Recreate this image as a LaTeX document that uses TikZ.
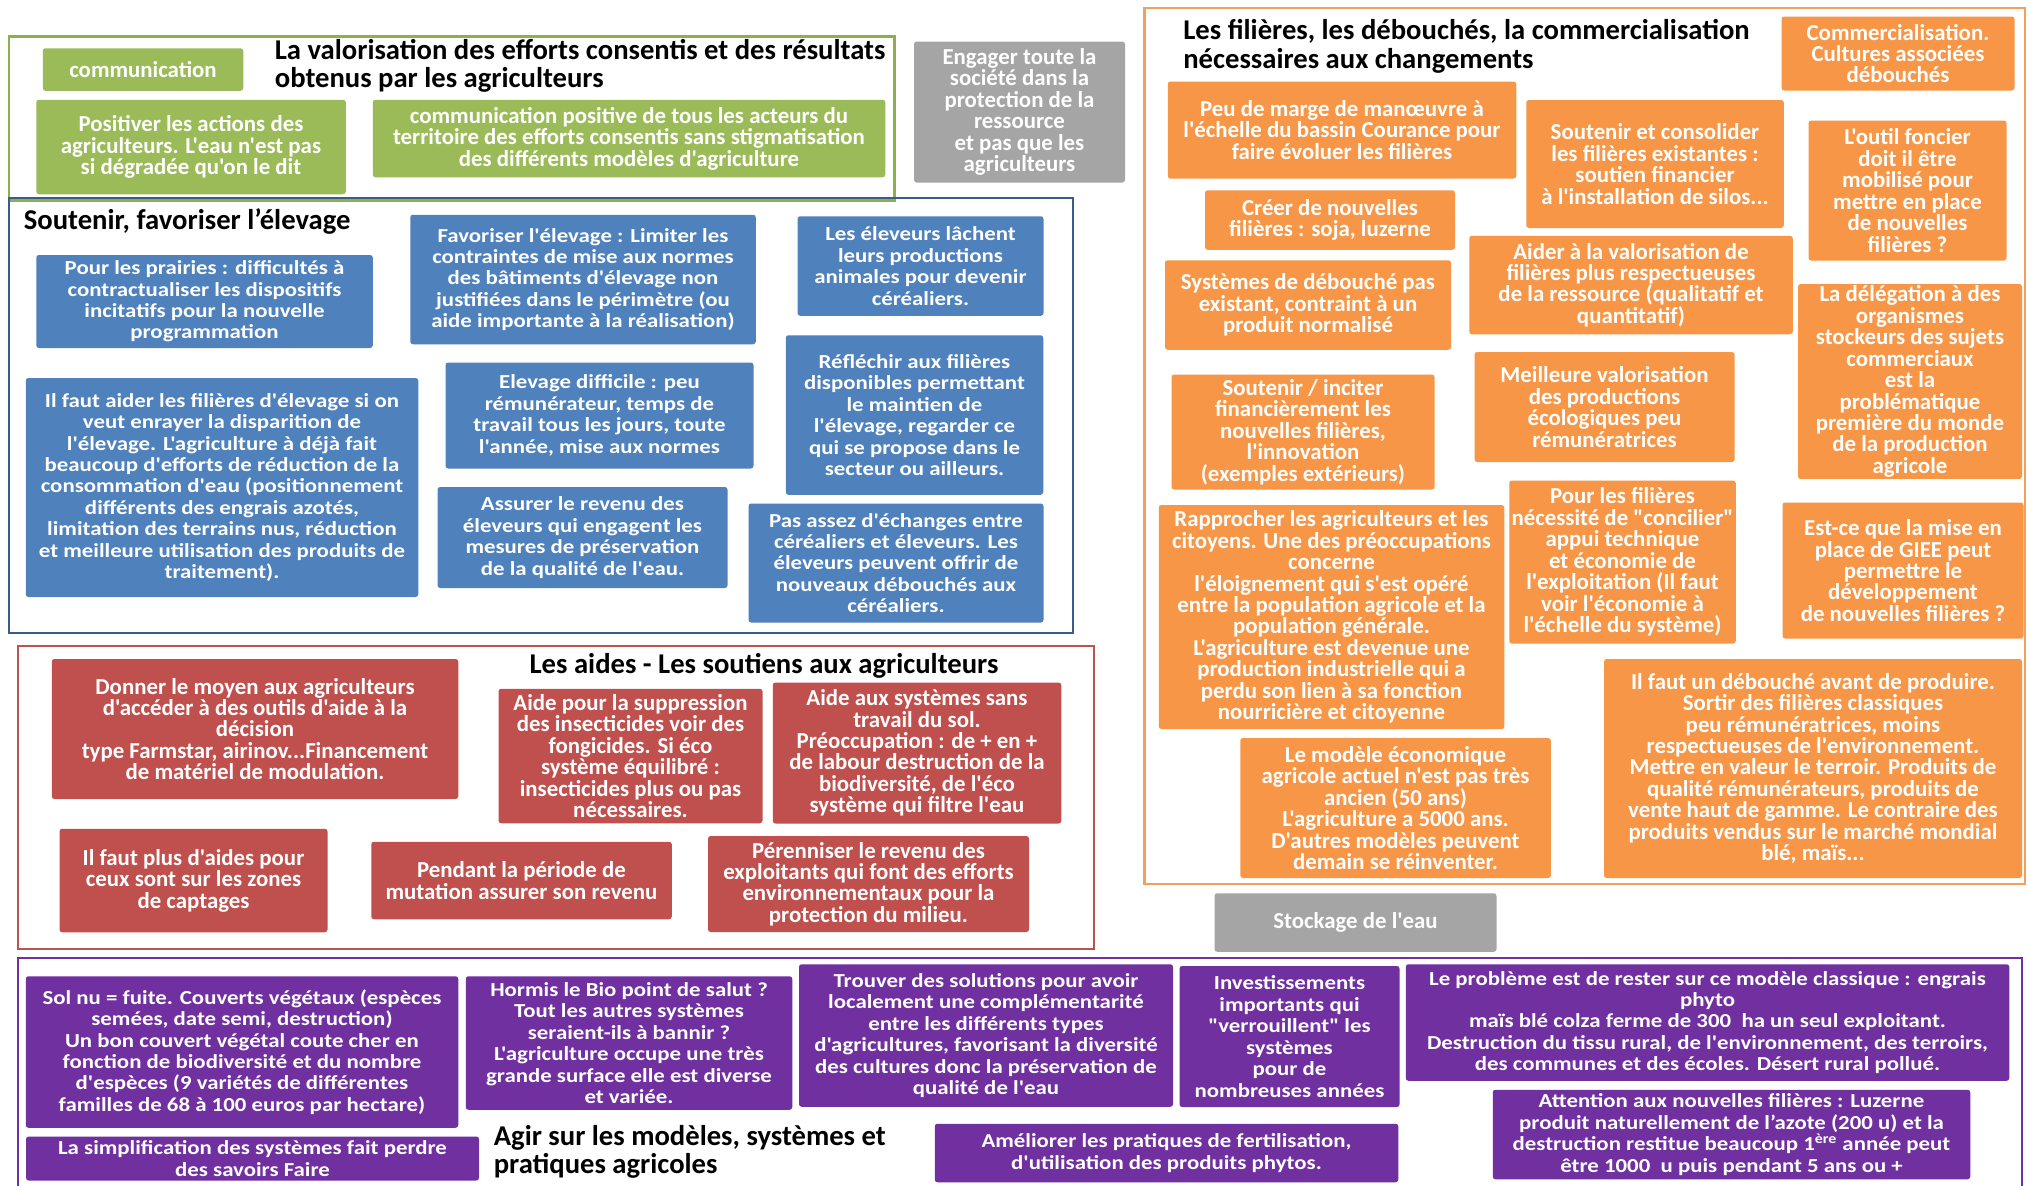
\documentclass[tikz,border=0pt]{standalone}
\usepackage{fontspec}
\setmainfont{Carlito}[Ligatures=TeXOff]
\newfontfamily\widefont[FakeStretch=1.15]{Carlito}
\usetikzlibrary{positioning}
\definecolor{valgreen}{RGB}{155, 187, 89}
\definecolor{valgreenline}{RGB}{140, 176, 74}
\definecolor{elevblue}{RGB}{79, 129, 189}
\definecolor{elevblueline}{RGB}{56, 93, 138}
\definecolor{aidred}{RGB}{192, 80, 77}
\definecolor{aidredline}{RGB}{185, 84, 80}
\definecolor{filorange}{RGB}{247, 150, 70}
\definecolor{filorangeline}{RGB}{245, 160, 90}
\definecolor{modpurple}{RGB}{112, 48, 160}
\definecolor{societygray}{RGB}{165, 165, 165}
\newcommand{\cardfont}{\fontsize{13}{12.2}\selectfont\bfseries\lineskiplimit=-20pt}
\newcommand{\widecardfont}{\widefont\fontsize{11.3}{12.2}\selectfont\bfseries\lineskiplimit=-20pt}
\newcommand{\headfont}{\fontsize{16.3}{16.2}\selectfont\bfseries\lineskiplimit=-20pt}

\begin{document}
\begin{tikzpicture}[
  card/.style={rounded corners=1.5pt, align=center, text=white, font=\cardfont, inner sep=1pt},
  greencard/.style={card, fill=valgreen},
  bluecard/.style={card, fill=elevblue, font=\widecardfont},
  redcard/.style={card, fill=aidred},
  orangecard/.style={card, fill=filorange},
  purplecard/.style={card, fill=modpurple, font=\widecardfont},
  graycard/.style={card, fill=societygray},
  heading/.style={align=left, anchor=west, font=\headfont, inner sep=0pt},
  frame/.style={line width=1.6pt}
]
  \useasboundingbox (0,0) rectangle (40.6,-23.72);
  \fill[white] (0,0) rectangle (40.6,-23.72);

  % Section frames
  \draw[frame, valgreenline] (0.18,-0.73) rectangle (17.89,-4.01);
  \draw[frame, elevblueline] (0.18,-3.96) rectangle (21.46,-12.66);
  \draw[frame, aidredline] (0.36,-12.92) rectangle (21.88,-18.98);
  \draw[frame, filorangeline] (22.89,-0.16) rectangle (40.5,-17.68);
  \draw[frame, modpurple] (0.36,-19.16) rectangle (40.44,-24.2);

  % Valorisation (green)
  \node[heading] (valtitle) at (5.49,-1.32) {La valorisation des efforts consentis et des résultats\\obtenus par les agriculteurs};
  \node[greencard, minimum width=4.01cm, minimum height=0.85cm] (comm) at (2.86,-1.39) {communication};
  \node[greencard, minimum width=6.19cm, minimum height=1.89cm] (positiver) at (3.82,-2.94) {Positiver les actions des\\agriculteurs. L'eau n'est pas\\si dégradée qu'on le dit};
  \node[greencard, minimum width=10.25cm, minimum height=1.55cm] (commpos) at (12.58,-2.77) {communication positive de tous les acteurs du\\territoire des efforts consentis sans stigmatisation\\des différents modèles d'agriculture};

  % Society (gray)
  \node[graycard, minimum width=4.22cm, minimum height=2.82cm] (engager) at (20.39,-2.24) {Engager toute la\\société dans la\\protection de la\\ressource\\et pas que les\\agriculteurs};
  \node[graycard, minimum width=5.64cm, minimum height=1.17cm] (stockage) at (27.11,-18.45) {Stockage de l'eau};

  % Elevage (blue)
  \node[heading] (elevtitle) at (0.47,-4.43) {Soutenir, favoriser l’élevage};
  \node[bluecard, minimum width=6.73cm, minimum height=1.86cm] (prairies) at (4.09,-6.03) {Pour les prairies : difficultés à\\contractualiser les dispositifs\\incitatifs pour la nouvelle\\programmation};
  \node[bluecard, minimum width=6.91cm, minimum height=2.59cm] (favoriser) at (11.66,-5.59) {Favoriser l'élevage : Limiter les\\contraintes de mise aux normes\\des bâtiments d'élevage non\\justifiées dans le périmètre (ou\\aide importante à la réalisation)};
  \node[bluecard, minimum width=4.92cm, minimum height=1.99cm] (lachent) at (18.41,-5.32) {Les éleveurs lâchent\\leurs productions\\animales pour devenir\\céréaliers.};
  \node[bluecard, minimum width=7.85cm, minimum height=4.38cm] (aider) at (4.44,-9.75) {Il faut aider les filières d'élevage si on\\veut enrayer la disparition de\\l'élevage. L'agriculture à déjà fait\\beaucoup d'efforts de réduction de la\\consommation d'eau (positionnement\\différents des engrais azotés,\\limitation des terrains nus, réduction\\et meilleure utilisation des produits de\\traitement).};
  \node[bluecard, minimum width=6.16cm, minimum height=2.12cm] (difficile) at (11.99,-8.31) {Elevage difficile : peu\\rémunérateur, temps de\\travail tous les jours, toute\\l'année, mise aux normes};
  \node[bluecard, minimum width=5.15cm, minimum height=3.19cm] (reflechir) at (18.29,-8.30) {Réfléchir aux filières\\disponibles permettant\\le maintien de\\l'élevage, regarder ce\\qui se propose dans le\\secteur ou ailleurs.};
  \node[bluecard, minimum width=5.80cm, minimum height=2.02cm] (revenu) at (11.65,-10.75) {Assurer le revenu des\\éleveurs qui engagent les\\mesures de préservation\\de la qualité de l'eau.};
  \node[bluecard, minimum width=5.90cm, minimum height=2.38cm] (echanges) at (17.92,-11.26) {Pas assez d'échanges entre\\céréaliers et éleveurs. Les\\éleveurs peuvent offrir de\\nouveaux débouchés aux\\céréaliers.};

  % Aides (red)
  \node[heading, anchor=center] (aidtitle) at (15.28,-13.31) {Les aides - Les soutiens aux agriculteurs};
  \node[redcard, minimum width=8.13cm, minimum height=2.80cm] (outils) at (5.10,-14.58) {Donner le moyen aux agriculteurs\\d'accéder à des outils d'aide à la\\décision\\type Farmstar, airinov...Financement\\de matériel de modulation.};
  \node[redcard, minimum width=5.28cm, minimum height=2.69cm] (insect) at (12.61,-15.12) {Aide pour la suppression\\des insecticides voir des\\fongicides. Si éco\\système équilibré :\\insecticides plus ou pas\\nécessaires.};
  \node[redcard, minimum width=5.77cm, minimum height=2.82cm] (sanssol) at (18.34,-15.06) {Aide aux systèmes sans\\travail du sol.\\Préoccupation : de + en +\\de labour destruction de la\\biodiversité, de l'éco\\système qui filtre l'eau};
  \node[redcard, minimum width=5.36cm, minimum height=2.07cm] (captages) at (3.87,-17.61) {Il faut plus d'aides pour\\ceux sont sur les zones\\de captages};
  \node[redcard, minimum width=6.01cm, minimum height=1.55cm] (mutation) at (10.43,-17.61) {Pendant la période de\\mutation assurer son revenu};
  \node[redcard, minimum width=6.42cm, minimum height=1.92cm] (perenniser) at (17.37,-17.68) {Pérenniser le revenu des\\exploitants qui font des efforts\\environnementaux pour la\\protection du milieu.};

  % Filieres (orange)
  \node[heading] (filtitle) at (23.66,-0.93) {Les filières, les débouchés, la commercialisation\\nécessaires aux changements};
  \node[orangecard, minimum width=4.66cm, minimum height=1.48cm] (commerce) at (37.96,-1.07) {Commercialisation.\\Cultures associées\\débouchés};
  \node[orangecard, minimum width=6.97cm, minimum height=1.94cm] (marge) at (26.84,-2.60) {Peu de marge de manœuvre à\\l'échelle du bassin Courance pour\\faire évoluer les filières};
  \node[orangecard, minimum width=5.15cm, minimum height=2.56cm] (consolider) at (33.10,-3.28) {Soutenir et consolider\\les filières existantes :\\soutien financier\\à l'installation de silos...};
  \node[orangecard, minimum width=3.96cm, minimum height=2.80cm] (foncier) at (38.15,-3.81) {L'outil foncier\\doit il être\\mobilisé pour\\mettre en place\\de nouvelles\\filières ?};
  \node[orangecard, minimum width=5.00cm, minimum height=1.19cm] (creer) at (26.60,-4.40) {Créer de nouvelles\\filières : soja, luzerne};
  \node[orangecard, minimum width=5.72cm, minimum height=1.79cm] (debouche) at (26.16,-6.10) {Systèmes de débouché pas\\existant, contraint à un\\produit normalisé};
  \node[orangecard, minimum width=6.47cm, minimum height=1.97cm] (valoris) at (32.62,-5.70) {Aider à la valorisation de\\filières plus respectueuses\\de la ressource (qualitatif et\\quantitatif)};
  \node[orangecard, minimum width=4.48cm, minimum height=3.86cm] (delegation) at (38.20,-7.63) {La délégation à des\\organismes\\stockeurs des sujets\\commerciaux\\est la\\problématique\\première du monde\\de la production\\agricole};
  \node[orangecard, minimum width=5.26cm, minimum height=2.30cm] (inciter) at (26.06,-8.64) {Soutenir / inciter\\financièrement les\\nouvelles filières,\\l'innovation\\(exemples extérieurs)};
  \node[orangecard, minimum width=5.20cm, minimum height=2.20cm] (meilleure) at (32.09,-8.14) {Meilleure valorisation\\des productions\\écologiques peu\\rémunératrices};
  \node[orangecard, minimum width=6.91cm, minimum height=4.48cm] (rapprocher) at (26.63,-12.34) {Rapprocher les agriculteurs et les\\citoyens. Une des préoccupations\\concerne\\l'éloignement qui s'est opéré\\entre la population agricole et la\\population générale.\\L'agriculture est devenue une\\production industrielle qui a\\perdu son lien à sa fonction\\nourricière et citoyenne};
  \node[orangecard, minimum width=4.53cm, minimum height=3.26cm] (concilier) at (32.45,-11.24) {Pour les filières\\nécessité de "concilier"\\appui technique\\et économie de\\l'exploitation (Il faut\\voir l'économie à\\l'échelle du système)};
  \node[orangecard, minimum width=4.82cm, minimum height=2.72cm] (giee) at (38.06,-11.41) {Est-ce que la mise en\\place de GIEE peut\\permettre le\\développement\\de nouvelles filières ?};
  \node[orangecard, minimum width=8.36cm, minimum height=4.38cm] (avant) at (36.26,-15.37) {Il faut un débouché avant de produire.\\Sortir des filières classiques\\peu rémunératrices, moins\\respectueuses de l'environnement.\\Mettre en valeur le terroir. Produits de\\qualité rémunérateurs, produits de\\vente haut de gamme. Le contraire des\\produits vendus sur le marché mondial\\blé, maïs...};
  \node[orangecard, minimum width=6.21cm, minimum height=2.80cm] (modele) at (27.91,-16.16) {Le modèle économique\\agricole actuel n'est pas très\\ancien (50 ans)\\L'agriculture a 5000 ans.\\D'autres modèles peuvent\\demain se réinventer.};

  % Modeles (purple)
  \node[heading] (modtitle) at (9.87,-23.04) {Agir sur les modèles, systèmes et\\pratiques agricoles};
  \node[purplecard, minimum width=8.65cm, minimum height=3.03cm] (solnu) at (4.84,-21.04) {Sol nu = fuite. Couverts végétaux (espèces\\semées, date semi, destruction)\\Un bon couvert végétal coute cher en\\fonction de biodiversité et du nombre\\d'espèces (9 variétés de différentes\\familles de 68 à 100 euros par hectare)};
  \node[purplecard, minimum width=6.53cm, minimum height=2.67cm] (bio) at (12.58,-20.86) {Hormis le Bio point de salut ?\\Tout les autres systèmes\\seraient-ils à bannir ?\\L'agriculture occupe une très\\grande surface elle est diverse\\et variée.};
  \node[purplecard, minimum width=7.48cm, minimum height=2.85cm] (complement) at (19.72,-20.71) {Trouver des solutions pour avoir\\localement une complémentarité\\entre les différents types\\d'agricultures, favorisant la diversité\\des cultures donc la préservation de\\qualité de l'eau};
  \node[purplecard, minimum width=4.40cm, minimum height=2.82cm] (verrou) at (25.79,-20.73) {Investissements\\importants qui\\"verrouillent" les\\systèmes\\pour de\\nombreuses années};
  \node[purplecard, minimum width=12.07cm, minimum height=2.33cm] (classique) at (34.15,-20.45) {Le problème est de rester sur ce modèle classique : engrais\\phyto\\maïs blé colza ferme de 300~ ha un seul exploitant.\\Destruction du tissu rural, de l'environnement, des terroirs,\\des communes et des écoles. Désert rural pollué.};
  \node[purplecard, minimum width=9.55cm, minimum height=1.79cm] (luzerne) at (34.63,-22.69) {Attention aux nouvelles filières : Luzerne\\produit naturellement de l’azote (200 u) et la\\destruction restitue beaucoup 1\textsuperscript{ère} année peut\\être 1000~ u puis pendant 5 ans ou +};
  \node[purplecard, minimum width=9.06cm, minimum height=0.88cm] (savoirs) at (5.05,-23.17) {La simplification des systèmes fait perdre\\des savoirs Faire};
  \node[purplecard, minimum width=9.27cm, minimum height=1.17cm] (fertil) at (23.33,-23.06) {Améliorer les pratiques de fertilisation,\\d'utilisation des produits phytos.};
\end{tikzpicture}
\end{document}
